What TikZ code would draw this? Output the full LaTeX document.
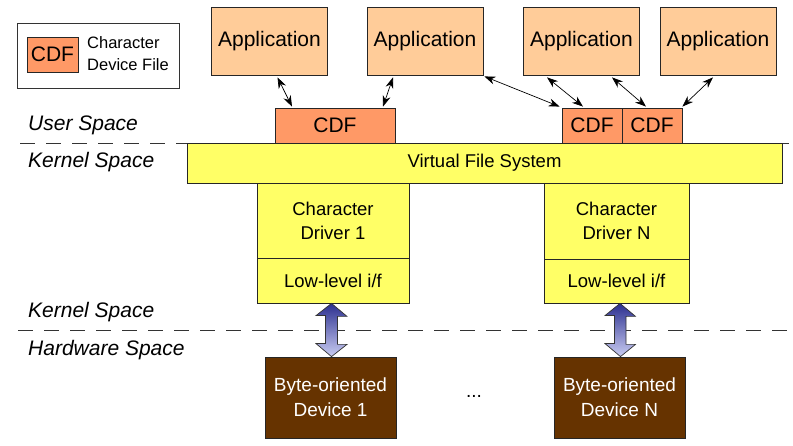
\documentclass[tikz,border=0pt]{standalone}
\usepackage{fontspec}
\setmainfont{Liberation Sans}
\usetikzlibrary{arrows.meta}
\definecolor{appcol}{HTML}{FFCC99}
\definecolor{cdfcol}{HTML}{FF9966}
\definecolor{kercol}{HTML}{FFFF66}
\definecolor{devcol}{HTML}{663300}
\definecolor{arrtop}{HTML}{2B2F8F}
\definecolor{arrbot}{HTML}{C9CCF2}
\tikzset{
  box/.style={draw=black!85,line width=0.8pt,inner sep=0pt,align=center},
  app/.style={box,fill=appcol,minimum width=116,minimum height=68,font=\fontsize{21}{25}\selectfont},
  cdf/.style={box,fill=cdfcol,minimum height=35,font=\fontsize{21}{25}\selectfont},
  kernel/.style={box,fill=kercol,font=\fontsize{18.5}{24}\selectfont},
  device/.style={box,fill=devcol,text=white,minimum width=131,minimum height=81,font=\fontsize{19}{25}\selectfont},
  space/.style={anchor=west,inner sep=0pt,font=\fontsize{21}{25}\selectfont\itshape},
  split/.style={dashed,dash pattern=on 15pt off 11pt,line width=0.8pt,draw=black!80},
  link/.style={{Stealth[length=11pt,width=8pt]}-{Stealth[length=11pt,width=8pt]},line width=0.7pt},
  bigarrow/.style={draw=black!80,line width=0.7pt,top color=arrtop,bottom color=arrbot}
}

\begin{document}
\begin{tikzpicture}[x=1pt,y=-1pt]
    \useasboundingbox (0,0) rectangle (793,446);

    % layers
    \coordinate (u0) at (20,143);
    \coordinate (u1) at (790,143);
    \coordinate (h0) at (18,330);
    \coordinate (h1) at (790,330);
    \draw [split] (u0) -- (u1);
    \draw [split] (h0) -- (h1);
    \node [space] (user) at (28,125) {User Space};
    \node [space] (kern) at (28,162) {Kernel Space};
    \node [space] (kern2) at (28,312) {Kernel Space};
    \node [space] (hard) at (28,350) {Hardware Space};

    % legend
    \node [box,draw=black!80,fill=none,minimum width=162,minimum height=65] (legend) at (98,55.5) {};
    \node [cdf,minimum width=51] (cdfkey) at (52.5,54.5) {CDF};
    \node [anchor=west,align=left,inner sep=0pt,font=\fontsize{16.5}{22}\selectfont] (keytext) at (87,54) {Character\\Device File};

    \node [app] (app1) at (269.5,41) {Application};
    \node [app] (app2) at (425,41) {Application};
    \node [app] (app3) at (581.5,41) {Application};
    \node [app] (app4) at (718,41) {Application};

    \node [cdf,minimum width=120] (cdf1) at (335,125.5) {CDF};
    \node [cdf,minimum width=60] (cdf2) at (592,125.5) {CDF};
    \node [cdf,minimum width=60] (cdf3) at (652,125.5) {CDF};

    \node [kernel,minimum width=595,minimum height=40] (vfs) at (484.5,163) {Virtual File System};
    \node [kernel,minimum width=152,minimum height=75] (drv1) at (333,220.5) {Character\\Driver 1};
    \node [kernel,minimum width=152,minimum height=45] (low1) at (333,280.5) {Low-level i/f};
    \node [kernel,minimum width=145,minimum height=76] (drvN) at (616.5,221) {Character\\Driver N};
    \node [kernel,minimum width=145,minimum height=44] (lowN) at (616.5,281) {Low-level i/f};

    \node [device] (dev1) at (330.5,397.5) {Byte-oriented\\Device 1};
    \node [device] (devN) at (619.5,397.5) {Byte-oriented\\Device N};
    \node [font=\fontsize{19}{25}\selectfont] (dots) at (474,396) {...};

    \draw [link] ([xshift=8pt,yshift=-2pt]app1.south) -- ([xshift=-43pt,yshift=1pt]cdf1.north);
    \draw [link] ([xshift=-32pt,yshift=-2pt]app2.south) -- ([xshift=48pt,yshift=1pt]cdf1.north);
    \draw [link] ([xshift=1pt,yshift=-1pt]app2.south east) -- ([xshift=-2pt,yshift=1pt]cdf2.north west);
    \draw [link] ([xshift=-34.5pt,yshift=-2pt]app3.south) -- ([xshift=-9pt,yshift=1pt]cdf2.north);
    \draw [link] ([xshift=30.5pt,yshift=-2pt]app3.south) -- ([xshift=-6pt,yshift=1pt]cdf3.north);
    \draw [link] ([xshift=-5pt,yshift=-2pt]app4.south) -- ([yshift=1pt]cdf3.north east);

    \path [bigarrow] ([xshift=-1.5pt]low1.south) -- ++(15.5,13) -- ++(-9.5,0) -- ++(0,28) -- ++(9.5,0)
      -- ([xshift=1pt]dev1.north) -- ++(-15.5,-13) -- ++(9.5,0) -- ++(0,-28) -- ++(-9.5,0) -- cycle;
    \path [bigarrow] ([xshift=3.5pt]lowN.south) -- ++(15.5,13) -- ++(-9.5,0) -- ++(0,28) -- ++(9.5,0)
      -- ([xshift=1pt]devN.north) -- ++(-15.5,-13) -- ++(9.5,0) -- ++(0,-28) -- ++(-9.5,0) -- cycle;
\end{tikzpicture}
\end{document}
